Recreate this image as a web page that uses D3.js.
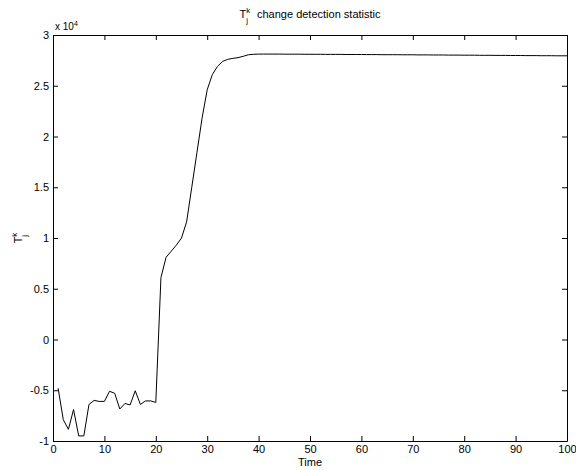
<!DOCTYPE html>
<html>
<head>
<meta charset="utf-8">
<script src="https://cdn.jsdelivr.net/npm/d3@7"></script>
<style>
	body { margin: 0; background: #fff; }
	text { font-family: "Liberation Sans", Arial, Helvetica, sans-serif; fill: #000; }
</style>
</head>
<body>
<svg id="chart" width="576" height="470"></svg>
<script>
// statistic values, in units of 1e4, for time steps 1..100
var statValues = [
	-0.48, -0.79, -0.885, -0.69, -0.95, -0.95, -0.64, -0.60, -0.61, -0.61,
	-0.51, -0.53, -0.685, -0.63, -0.645, -0.505, -0.64, -0.605, -0.605, -0.62,
	0.61, 0.81, 0.87, 0.93, 1.0, 1.16, 1.50, 1.84, 2.18, 2.46,
	2.61, 2.69, 2.74, 2.76, 2.77, 2.777, 2.79, 2.805, 2.81, 2.812,
	2.812, 2.812, 2.812, 2.812, 2.811, 2.811, 2.811, 2.811, 2.810, 2.810,
	2.810, 2.810, 2.809, 2.809, 2.809, 2.809, 2.808, 2.808, 2.808, 2.808,
	2.807, 2.807, 2.807, 2.806, 2.806, 2.806, 2.806, 2.805, 2.805, 2.805,
	2.804, 2.804, 2.804, 2.803, 2.803, 2.803, 2.802, 2.802, 2.802, 2.801,
	2.801, 2.801, 2.800, 2.800, 2.800, 2.799, 2.799, 2.799, 2.798, 2.798,
	2.798, 2.797, 2.797, 2.797, 2.796, 2.796, 2.796, 2.795, 2.795, 2.795
];
var xTicks = [0, 10, 20, 30, 40, 50, 60, 70, 80, 90, 100];
var yTicks = [-1, -0.5, 0, 0.5, 1, 1.5, 2, 2.5, 3];
var yTickLabels = ['-1', '-0.5', '0', '0.5', '1', '1.5', '2', '2.5', '3'];

var points = statValues.map(function (v, i) {
	return {t: i + 1, v: v};
});

var margin = {left: 53, right: 9, top: 35, bottom: 29};
var width = 576 - margin.left - margin.right;
var height = 470 - margin.top - margin.bottom;

var svg = d3.select('#chart');
var g = svg.append('g')
	.attr('transform', 'translate(' + margin.left + ',' + margin.top + ')');

var x = d3.scaleLinear().domain([0, 100]).range([0, width]);
var y = d3.scaleLinear().domain([-1, 3]).range([height, 0]);

// axes with inward ticks, matlab style
var tickLen = 5;
g.append('g')
	.attr('class', 'x axis')
	.attr('transform', 'translate(0,' + height + ')')
	.call(d3.axisBottom(x).tickValues(xTicks).tickSizeInner(-tickLen).tickSizeOuter(0).tickPadding(4));
g.append('g')
	.attr('class', 'x axis top')
	.call(d3.axisTop(x).tickValues(xTicks).tickSizeInner(-tickLen).tickSizeOuter(0).tickFormat(''));
g.append('g')
	.attr('class', 'y axis')
	.call(d3.axisLeft(y).tickValues(yTicks).tickSizeInner(-tickLen).tickSizeOuter(0).tickPadding(4)
		.tickFormat(function (d, i) { return yTickLabels[i]; }));
g.append('g')
	.attr('class', 'y axis right')
	.attr('transform', 'translate(' + width + ',0)')
	.call(d3.axisRight(y).tickValues(yTicks).tickSizeInner(-tickLen).tickSizeOuter(0).tickFormat(''));

g.selectAll('.axis path').attr('stroke', '#000').attr('stroke-width', 1);
g.selectAll('.axis line').attr('stroke', '#000').attr('stroke-width', 1);
g.selectAll('.axis text').style('font-size', '11px').attr('fill', '#000');
g.selectAll('.axis text').style('font-family', '"Liberation Sans", Arial, sans-serif');

// the series
var line = d3.line()
	.x(function (d) { return x(d.t); })
	.y(function (d) { return y(d.v); });

g.append('path')
	.datum(points)
	.attr('fill', 'none')
	.attr('stroke', '#000')
	.attr('stroke-width', 1)
	.attr('d', line);

// exponent label
var expo = svg.append('text')
	.attr('x', margin.left + 2)
	.attr('y', margin.top - 5)
	.style('font-size', '10px');
expo.append('tspan').text('x 10');
expo.append('tspan').attr('dy', -4).style('font-size', '7px').text('4');

// title
var title = svg.append('text')
	.attr('x', margin.left + width / 2)
	.attr('y', 18)
	.attr('text-anchor', 'middle')
	.style('font-size', '11px');
title.append('tspan').text('T');
title.append('tspan').attr('dy', -5).style('font-size', '8px').text('k');
title.append('tspan').attr('dx', -4).attr('dy', 10).style('font-size', '8px').text('j');
title.append('tspan').attr('dx', 9).attr('dy', -5).text('change detection statistic');

// x label
svg.append('text')
	.attr('x', margin.left + width / 2)
	.attr('y', 466)
	.attr('text-anchor', 'middle')
	.style('font-size', '11px')
	.text('Time');

// y label
var ylab = svg.append('text')
	.attr('transform', 'translate(22,' + (margin.top + height / 2) + ') rotate(-90)')
	.attr('text-anchor', 'middle')
	.style('font-size', '11px');
ylab.append('tspan').text('T');
ylab.append('tspan').attr('dy', -5).style('font-size', '8px').text('k');
ylab.append('tspan').attr('dx', -4).attr('dy', 10).style('font-size', '8px').text('j');
</script>
</body>
</html>
